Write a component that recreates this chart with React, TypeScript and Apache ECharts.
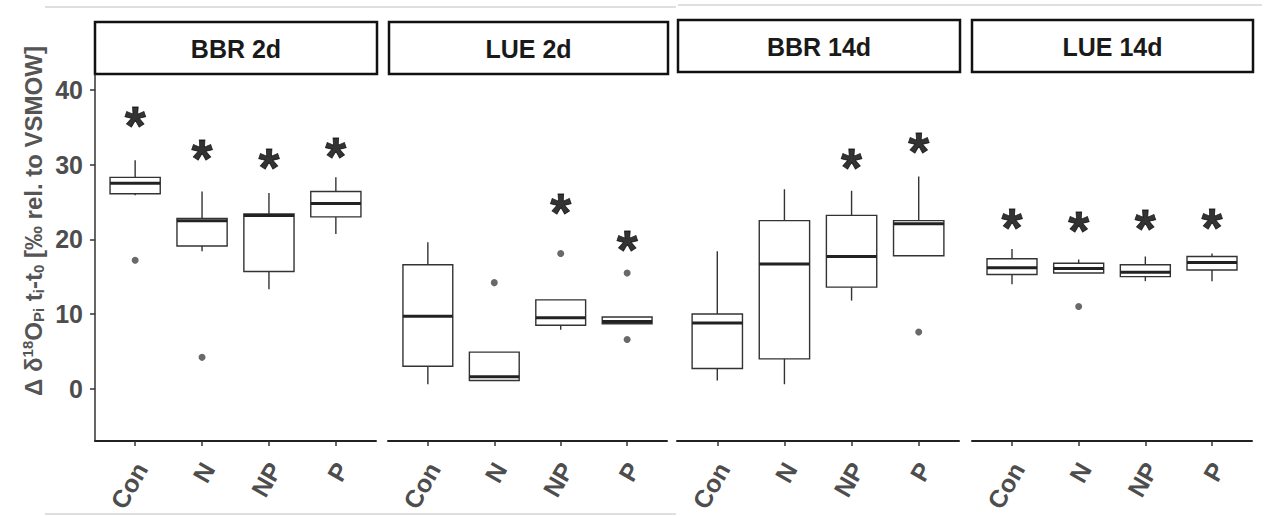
import React, { useEffect, useRef } from "react";
import * as echarts from "echarts";

const categories = ["Con", "N", "NP", "P"];
const panelTitles = ["BBR 2d", "LUE 2d", "BBR 14d", "LUE 14d"];
const yTicks = [0, 10, 20, 30, 40];

// each box: [lower whisker, Q1, median, Q3, upper whisker]
const bbr2dBoxes = [
  [25.9, 26.1, 27.5, 28.3, 30.6],
  [18.4, 19.1, 22.5, 22.8, 26.4],
  [13.3, 15.7, 23.2, 23.4, 26.2],
  [20.7, 23.0, 24.8, 26.4, 28.3],
];
const lue2dBoxes = [
  [0.6, 3.0, 9.7, 16.6, 19.6],
  [1.1, 1.1, 1.6, 4.9, 4.9],
  [7.9, 8.5, 9.5, 11.9, 11.9],
  [8.7, 8.7, 9.0, 9.6, 9.6],
];
const bbr14dBoxes = [
  [1.1, 2.7, 8.8, 10.0, 18.4],
  [0.6, 4.0, 16.7, 22.5, 26.7],
  [11.8, 13.6, 17.7, 23.2, 26.5],
  [17.8, 17.8, 22.1, 22.5, 28.4],
];
const lue14dBoxes = [
  [14.0, 15.3, 16.2, 17.4, 18.7],
  [15.5, 15.5, 16.1, 16.8, 17.3],
  [14.4, 15.0, 15.6, 16.6, 17.7],
  [14.4, 15.9, 16.9, 17.7, 18.1],
];

// outliers: [category index, value]
const bbr2dOutliers = [[0, 17.2], [1, 4.2]];
const lue2dOutliers = [[1, 14.2], [2, 18.1], [3, 15.5], [3, 6.6]];
const bbr14dOutliers = [[3, 7.6]];
const lue14dOutliers = [[1, 11.0]];

// significance asterisks: [category index, value]
const bbr2dStars = [[0, 36.2], [1, 31.8], [2, 30.6], [3, 32.1]];
const lue2dStars = [[2, 24.6], [3, 19.6]];
const bbr14dStars = [[2, 30.6], [3, 32.7]];
const lue14dStars = [[0, 22.6], [1, 22.2], [2, 22.4], [3, 22.6]];

const panelBoxes = [bbr2dBoxes, lue2dBoxes, bbr14dBoxes, lue14dBoxes];
const panelOutliers = [bbr2dOutliers, lue2dOutliers, bbr14dOutliers, lue14dOutliers];
const panelStars = [bbr2dStars, lue2dStars, bbr14dStars, lue14dStars];

const FONT = "'Liberation Sans', Arial, Helvetica, sans-serif";
const gridLeft = [95, 388, 677, 972];
const gridWidth = [281, 279, 282, 280];
const headerX = [95, 389, 678, 972];
const headerW = [282, 279, 282, 281];
const headerY = [22, 22, 20, 20];

export default function App() {
  const ref = useRef<HTMLDivElement>(null);

  useEffect(() => {
    if (!ref.current) return;
    const chart = echarts.init(ref.current, undefined, { renderer: "svg" });

    const grids = panelTitles.map((_, i) => ({
      left: gridLeft[i],
      width: gridWidth[i],
      top: 75,
      height: 366,
    }));

    const catStyle = {
      fontSize: 25,
      fontWeight: "bold",
      fontFamily: FONT,
      color: "#4d4d4d",
      padding: [14, 0, 0, 0],
    };

    const xAxes = panelTitles.map((_, i) => ({
      type: "value",
      gridIndex: i,
      min: -0.6,
      max: 3.6,
      splitLine: { show: false },
      axisLine: { show: true, onZero: false, lineStyle: { color: "#222", width: 2 } },
      axisTick: {
        show: true,
        customValues: [0, 1, 2, 3],
        length: 5,
        lineStyle: { color: "#333", width: 1.5 },
      },
      axisLabel: {
        show: true,
        customValues: [0, 1, 2, 3],
        formatter: (v: number) => "{c|" + (categories[Math.round(v)] ?? "") + "}",
        rotate: 60,
        margin: 20,
        fontSize: 25,
        fontWeight: "bold",
        fontFamily: FONT,
        color: "#4d4d4d",
        rich: { c: catStyle },
      },
    }));

    const yAxes = panelTitles.map((_, i) => ({
      type: "value",
      gridIndex: i,
      min: -7,
      max: 42,
      splitLine: { show: false },
      axisLine: { show: i === 0, onZero: false, lineStyle: { color: "#333", width: 1.5 } },
      axisTick: {
        show: i === 0,
        customValues: yTicks,
        length: 5,
        lineStyle: { color: "#333", width: 1.5 },
      },
      axisLabel: {
        show: i === 0,
        customValues: yTicks,
        margin: 12,
        fontSize: 25,
        fontWeight: "bold",
        fontFamily: FONT,
        color: "#4d4d4d",
      },
    }));

    const series: any[] = [];
    panelTitles.forEach((_, i) => {
      series.push({
        type: "custom",
        xAxisIndex: i,
        yAxisIndex: i,
        data: panelBoxes[i].map((b, j) => [j, ...b]),
        encode: { x: 0, y: [1, 2, 3, 4, 5] },
        renderItem: (params: any, api: any) => {
          const x = api.value(0);
          const lo = api.coord([x, api.value(1)]);
          const q1 = api.coord([x, api.value(2)]);
          const md = api.coord([x, api.value(3)]);
          const q3 = api.coord([x, api.value(4)]);
          const hi = api.coord([x, api.value(5)]);
          const w = api.size([0.75, 0])[0];
          const left = q1[0] - w / 2;
          const stroke = "#333";
          return {
            type: "group",
            children: [
              { type: "line", shape: { x1: lo[0], y1: lo[1], x2: q1[0], y2: q1[1] }, style: { stroke, lineWidth: 1.4 } },
              { type: "line", shape: { x1: q3[0], y1: q3[1], x2: hi[0], y2: hi[1] }, style: { stroke, lineWidth: 1.4 } },
              {
                type: "rect",
                shape: { x: left, y: q3[1], width: w, height: q1[1] - q3[1] },
                style: { fill: "#fff", stroke, lineWidth: 1.4 },
              },
              { type: "line", shape: { x1: left, y1: md[1], x2: left + w, y2: md[1] }, style: { stroke: "#222", lineWidth: 3 } },
            ],
          };
        },
      });
      series.push({
        type: "scatter",
        xAxisIndex: i,
        yAxisIndex: i,
        data: panelOutliers[i],
        symbolSize: 7,
        itemStyle: { color: "#444" },
      });
      series.push({
        type: "scatter",
        xAxisIndex: i,
        yAxisIndex: i,
        data: panelStars[i],
        symbolSize: 1,
        itemStyle: { color: "rgba(0,0,0,0)" },
        label: {
          show: true,
          position: "inside",
          formatter: "*",
          fontSize: 54,
          fontWeight: "bold",
          fontFamily: FONT,
          color: "#000",
          textBorderColor: "#000",
          textBorderWidth: 0.8,
          offset: [0, 7],
        },
      });
    });

    const graphic: any[] = [
      { type: "line", shape: { x1: 45, y1: 7, x2: 676, y2: 7 }, style: { stroke: "#d4d4d4", lineWidth: 1.5 } },
      { type: "line", shape: { x1: 678, y1: 5, x2: 1262, y2: 5 }, style: { stroke: "#d4d4d4", lineWidth: 1.5 } },
      { type: "line", shape: { x1: 45, y1: 514, x2: 676, y2: 514 }, style: { stroke: "#d4d4d4", lineWidth: 1.5 } },
    ];
    panelTitles.forEach((t, i) => {
      graphic.push({
        type: "rect",
        shape: { x: headerX[i], y: headerY[i], width: headerW[i], height: 52 },
        style: { fill: "#fff", stroke: "#111", lineWidth: 2.5 },
      });
      graphic.push({
        type: "text",
        x: headerX[i] + headerW[i] / 2,
        y: headerY[i] + 27,
        style: {
          text: t,
          align: "center",
          verticalAlign: "middle",
          fontSize: 25,
          fontWeight: "bold",
          fontFamily: FONT,
          fill: "#1a1a1a",
        },
      });
    });
    graphic.push({
      type: "text",
      x: 33,
      y: 221,
      rotation: Math.PI / 2,
      style: {
        text: "Δ δ{sup|18}O{sub|Pi} t{sub|i}-t{sub|0} [‰ rel. to VSMOW]",
        align: "center",
        verticalAlign: "middle",
        fontSize: 24,
        fontWeight: "bold",
        fontFamily: FONT,
        fill: "#555",
        rich: {
          sup: { fontSize: 15, fontWeight: "bold", fontFamily: FONT, fill: "#555", padding: [0, 0, 12, 0] },
          sub: { fontSize: 15, fontWeight: "bold", fontFamily: FONT, fill: "#555", padding: [10, 0, 0, 0] },
        },
      },
    });

    chart.setOption({
      animation: false,
      backgroundColor: "#fff",
      grid: grids,
      xAxis: xAxes,
      yAxis: yAxes,
      series,
      graphic,
    });

    return () => chart.dispose();
  }, []);

  return (
    <div
      ref={ref}
      style={{ position: "fixed", left: 0, top: 0, width: 1264, height: 516, background: "#fff" }}
    />
  );
}
